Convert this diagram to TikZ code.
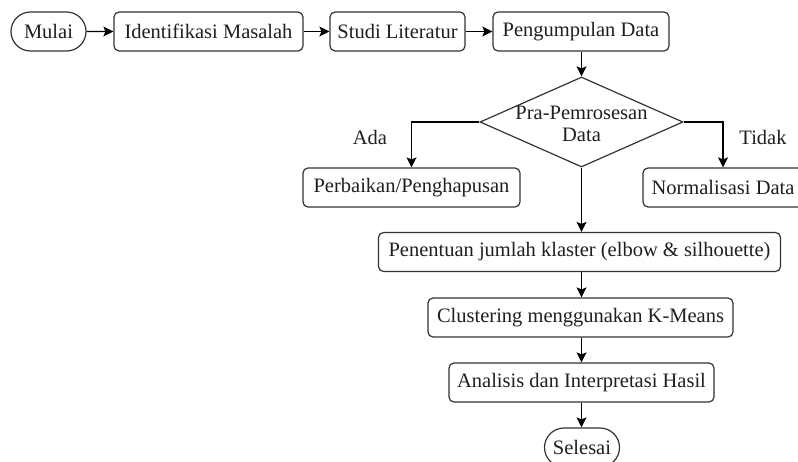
\documentclass[tikz,border=0pt]{standalone}
\usepackage{fontspec}
\setmainfont{Liberation Serif}
\usetikzlibrary{shapes.geometric,shapes.misc,arrows.meta}
\begin{document}
\begin{tikzpicture}[x=1pt,y=-1pt,
  font=\fontsize{20.5}{22}\selectfont,
  every node/.style={text=black!88},
  proc/.style={draw=black!80, line width=1.2pt, rounded corners=5pt, minimum height=39pt, inner sep=0pt},
  term/.style={draw=black!80, line width=1.2pt, rounded rectangle, minimum height=39pt, inner sep=0pt},
  flow/.style={draw=black, line width=1.2pt, -{Stealth[length=10pt,width=10pt,inset=2pt]}},
  lbl/.style={inner sep=0pt}]
\useasboundingbox (0,0) rectangle (798,461);
\node[term, minimum width=75pt] (mulai) at (48.5,31.5) {Mulai};
\node[proc, minimum width=189pt] (ident) at (208.5,31.5) {Identifikasi Masalah};
\node[proc, minimum width=135pt] (studi) at (397.5,31.5) {Studi Literatur};
\node[proc, minimum width=176pt] (kumpul) at (581,31.5) {Pengumpulan Data};
\node[draw=black!80, line width=1.2pt, diamond, minimum width=203pt, minimum height=90pt, inner sep=0pt] (pra) at (581.5,122) {};
\node[lbl, align=center] (pratext) at (581.5,124) {Pra-Pemrosesan\\Data};
\node[proc, minimum width=217pt] (perbaikan) at (411.5,187.5) {Perbaikan/Penghapusan};
\node[proc, minimum width=160pt] (norm) at (723,187.5) {Normalisasi Data};
\node[proc, minimum width=402pt] (tentu) at (579.5,252) {Penentuan jumlah klaster (elbow \& silhouette)};
\node[proc, minimum width=305pt] (cluster) at (580.5,317.5) {Clustering menggunakan K-Means};
\node[proc, minimum width=265pt] (analisis) at (581.5,382.5) {Analisis dan Interpretasi Hasil};
\node[term, minimum width=75pt] (selesai) at (582,447.5) {Selesai};
\node[lbl] (ada) at (370,137) {Ada};
\node[lbl] (tidak) at (763,137) {Tidak};
\draw[flow] (mulai) -- (ident);
\draw[flow] (ident) -- (studi);
\draw[flow] (studi) -- (kumpul);
\draw[flow] (kumpul.south -| pra.north) -- (pra.north);
\draw[flow] (pra.west) -| (perbaikan.north);
\draw[flow] (pra.east) -| (norm.north);
\draw[flow] (pra.south) -- (pra.south |- tentu.north);
\draw[flow] (tentu.south -| pra.south) -- (cluster.north -| pra.south);
\draw[flow] (cluster.south -| pra.south) -- (analisis.north -| pra.south);
\draw[flow] (analisis.south -| pra.south) -- (selesai.north -| pra.south);
\end{tikzpicture}
\end{document}
